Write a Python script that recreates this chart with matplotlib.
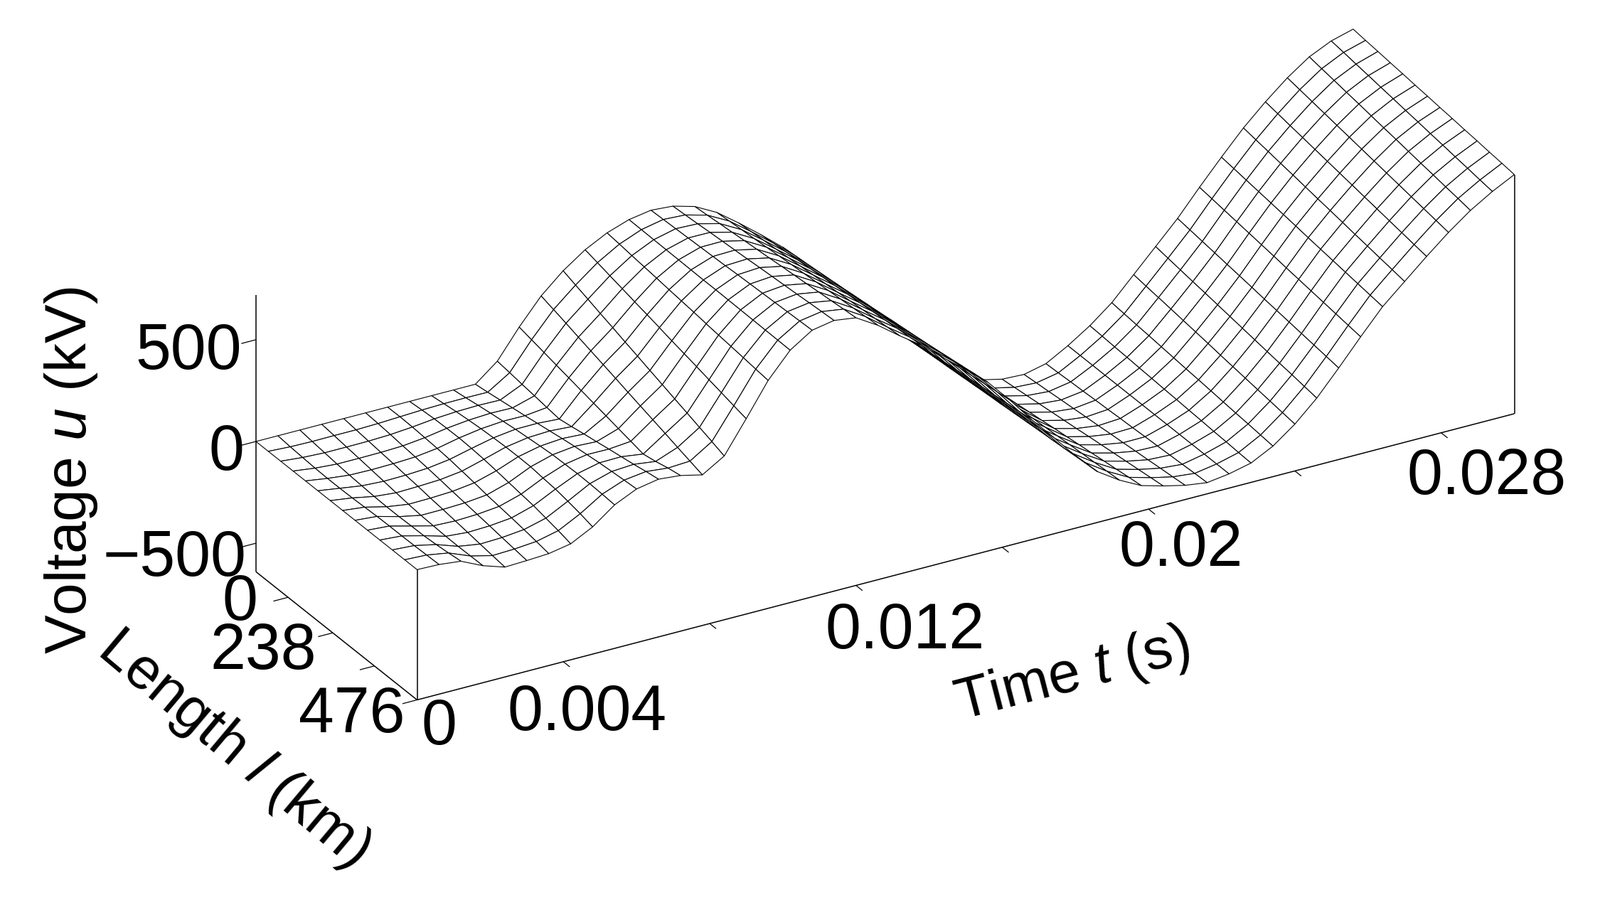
import numpy as np
import matplotlib
matplotlib.use("Agg")
import matplotlib.pyplot as plt
from mpl_toolkits.mplot3d import proj3d

plt.rcParams['font.family'] = ['Liberation Sans', 'DejaVu Sans']
plt.rcParams['mathtext.fontset'] = 'custom'
plt.rcParams['mathtext.rm'] = 'Liberation Sans'
plt.rcParams['mathtext.it'] = 'Liberation Sans:italic'

# grid of the surface
time_s = [i * 0.0006 for i in range(51)]
length_km = [j * 476 / 13 for j in range(14)]

# voltage (kV), one line per time step, from l=0 to l=476
voltage_kv = [
    [0, 0, 0, 0, 0, 0, 0, 0, 0, 0, 0, 0, 0, 0],
    [0, -6, -10, -14, -16, -16, -15, -12, -9, -8, -8, -7, -5, -3],
    [0, -8, -15, -22, -28, -32, -36, -38, -38, -36, -35, -30, -23, -15],
    [0, -7, -15, -22, -30, -38, -46, -54, -60, -63, -66, -67, -66, -65],
    [0, -7, -14, -21, -28, -36, -43, -52, -59, -67, -75, -84, -92, -100],
    [0, -4, -10, -17, -23, -30, -38, -47, -55, -63, -71, -80, -88, -96],
    [0, 1, -1, -5, -9, -15, -24, -33, -44, -52, -60, -69, -79, -90],
    [0, 6, 11, 13, 14, 11, 6, -2, -11, -20, -28, -41, -54, -70],
    [0, 9, 18, 25, 31, 35, 38, 39, 38, 31, 25, 14, 1, -15],
    [0, 10, 21, 31, 40, 49, 56, 63, 69, 71, 73, 72, 69, 65],
    [0, 9, 19, 29, 39, 50, 61, 72, 82, 90, 98, 104, 110, 115],
    [85, 77, 68, 60, 51, 43, 54, 66, 77, 89, 100, 111, 124, 135],
    [225, 211, 197, 183, 169, 155, 141, 127, 113, 99, 85, 97, 113, 125],
    [350, 331, 312, 292, 273, 254, 235, 215, 196, 177, 158, 138, 119, 100],
    [445, 423, 402, 380, 359, 337, 316, 294, 273, 251, 230, 208, 187, 165],
    [520, 505, 489, 474, 458, 443, 428, 412, 397, 382, 366, 351, 335, 320],
    [575, 568, 560, 553, 546, 538, 531, 524, 516, 509, 502, 495, 487, 480],
    [612, 611, 610, 609, 608, 607, 606, 606, 605, 604, 603, 602, 601, 600],
    [630, 633, 636, 639, 642, 645, 648, 652, 655, 658, 661, 664, 667, 670],
    [622, 627, 632, 638, 643, 648, 653, 659, 664, 669, 674, 680, 685, 690],
    [592, 598, 605, 611, 618, 624, 630, 637, 643, 649, 656, 662, 669, 675],
    [535, 541, 547, 552, 558, 564, 570, 575, 581, 587, 593, 598, 604, 610],
    [455, 461, 467, 472, 478, 484, 490, 495, 501, 507, 513, 518, 524, 530],
    [370, 377, 383, 390, 396, 403, 409, 416, 422, 429, 435, 442, 448, 455],
    [280, 287, 293, 300, 306, 313, 319, 326, 332, 339, 345, 352, 358, 365],
    [175, 183, 191, 199, 207, 215, 223, 232, 240, 248, 256, 264, 272, 280],
    [60, 70, 80, 90, 100, 110, 120, 130, 140, 150, 160, 170, 180, 190],
    [-45, -36, -27, -17, -8, 1, 10, 20, 29, 38, 47, 57, 66, 75],
    [-155, -147, -139, -131, -123, -115, -107, -98, -90, -82, -74, -66, -58, -50],
    [-260, -253, -245, -238, -231, -223, -216, -209, -202, -194, -187, -180, -172, -165],
    [-360, -354, -348, -343, -337, -331, -325, -320, -314, -308, -302, -297, -291, -285],
    [-445, -441, -437, -432, -428, -424, -420, -415, -411, -407, -403, -398, -394, -390],
    [-525, -520, -515, -510, -505, -500, -495, -490, -485, -480, -475, -470, -465, -460],
    [-625, -617, -608, -600, -591, -583, -574, -566, -557, -549, -540, -532, -523, -515],
    [-650, -642, -634, -626, -618, -610, -602, -593, -585, -577, -569, -561, -553, -545],
    [-655, -648, -642, -635, -629, -622, -616, -609, -603, -596, -590, -583, -577, -570],
    [-630, -627, -623, -620, -616, -613, -609, -606, -602, -599, -595, -592, -588, -585],
    [-570, -570, -570, -570, -570, -570, -570, -570, -570, -570, -570, -570, -570, -570],
    [-500, -503, -507, -510, -514, -517, -521, -524, -528, -531, -535, -538, -542, -545],
    [-415, -421, -427, -432, -438, -444, -450, -455, -461, -467, -473, -478, -484, -490],
    [-305, -313, -321, -329, -337, -345, -353, -362, -370, -378, -386, -394, -402, -410],
    [-195, -204, -213, -222, -230, -239, -248, -257, -266, -275, -284, -292, -301, -310],
    [-85, -93, -101, -109, -117, -125, -133, -142, -150, -158, -166, -174, -182, -190],
    [40, 32, 24, 16, 8, 0, -8, -17, -25, -33, -41, -49, -57, -65],
    [160, 152, 144, 136, 128, 120, 112, 103, 95, 87, 79, 71, 63, 55],
    [275, 265, 256, 246, 237, 227, 217, 208, 198, 188, 179, 169, 160, 150],
    [375, 365, 355, 345, 335, 325, 315, 305, 295, 285, 275, 265, 255, 245],
    [465, 455, 445, 435, 425, 415, 405, 395, 385, 375, 365, 355, 345, 335],
    [540, 530, 521, 511, 502, 492, 482, 473, 463, 453, 444, 434, 425, 415],
    [590, 582, 573, 565, 556, 548, 539, 531, 522, 514, 505, 497, 488, 480],
    [620, 613, 607, 600, 594, 587, 581, 574, 568, 561, 555, 548, 542, 535],
]

t_ticks = [0.004, 0.008, 0.012, 0.016, 0.02, 0.024, 0.028]
l_ticks = [95, 227, 350, 476]
u_ticks = [-500, 0, 500]

T_MAX = 0.03
L_MAX = 476
U_MIN = -640
U_MAX = 720

W, H = 2250, 1266
S = 2600  # square axes, bigger than the figure so nothing is clipped
BOX = (1240, 318, 305)

fig = plt.figure(figsize=(W / 100, H / 100), dpi=100, facecolor='white')
ax = fig.add_axes([(W - S) / 2 / W, (H - S) / 2 / H, S / W, S / H],
                  projection='3d', computed_zorder=False)
ax.set_proj_type('ortho')
ax.view_init(elev=27.1, azim=240.2)
ax.set_xlim(0, T_MAX)
ax.set_ylim(L_MAX, 0)
ax.set_zlim(U_MIN, U_MAX)
ax.set_axis_off()
ax.patch.set_alpha(0)

tt, ll = np.meshgrid(time_s, length_km, indexing='ij')
ax.plot_surface(tt, ll, np.array(voltage_kv), rstride=1, cstride=1, color='white',
                edgecolor='black', linewidth=0.8, shade=False, antialiased=True, zorder=1)


def line3(t, l, u, lw=1.1):
    ax.plot(t, l, u, color='black', linewidth=lw, zorder=2, solid_capstyle='butt')


# box edges
line3([0, 0], [0, 0], [U_MIN, U_MAX])
line3([0, 0], [0, L_MAX], [U_MIN, U_MIN])
line3([0, T_MAX], [L_MAX, L_MAX], [U_MIN, U_MIN])
line3([0, 0], [L_MAX, L_MAX], [U_MIN, 0])
line3([T_MAX, T_MAX], [L_MAX, L_MAX], [U_MIN, 535])

# ticks
for u in u_ticks:
    line3([-0.0004, 0], [0, 0], [u, u], 0.9)
for l in l_ticks:
    line3([-0.0004, 0], [l, l], [U_MIN, U_MIN], 0.9)
for t in t_ticks:
    line3([t, t], [L_MAX, L_MAX + 19], [U_MIN, U_MIN], 0.9)


def to_pixels(t, l, u):
    ax.apply_aspect()
    x, y, _ = proj3d.proj_transform(t, l, u, ax.get_proj())
    return ax.transData.transform((x, y))


# fit the box on the corners of the time axis
target_a = np.array([586.5, H - 984.5])
target_b = np.array([2129.5, H - 581.0])
ax.set_box_aspect(BOX, zoom=1.0)
a = to_pixels(0, L_MAX, U_MIN)
b = to_pixels(T_MAX, L_MAX, U_MIN)
ax.set_box_aspect(BOX, zoom=(target_b[0] - target_a[0]) / (b[0] - a[0]))
a = to_pixels(0, L_MAX, U_MIN)
shift = target_a - a
ax.set_position([(W - S) / 2 / W + shift[0] / W, (H - S) / 2 / H + shift[1] / H, S / W, S / H])

FS = 64.5


def label(x, y, s, rot=0, size=FS):
    # x, y in the 1568x882 picture
    fig.text(x / 1568, 1 - y / 882, s, fontsize=size, ha='center', va='center', rotation=rot,
             rotation_mode='anchor', color='black')


label(185, 345, '500')
label(222, 444, '0')
label(171, 548, '\u2212500')
label(235, 591, '0')
label(258, 639, '238')
label(345, 701, '476')
label(430, 713, '0')
label(575, 699, '0.004')
label(887, 619, '0.012')
label(1157, 538, '0.02')
label(1457, 468, '0.028')

label(70, 461, r'Voltage $\mathit{u}$ (kV)', rot=90, size=59)
label(229, 734, r'Length $\mathit{l}$ (km)', rot=-40, size=58.5)
label(1051, 662, r'Time $\mathit{t}$ (s)', rot=14.5, size=58)

fig.savefig('out.png', dpi=100, facecolor='white')
